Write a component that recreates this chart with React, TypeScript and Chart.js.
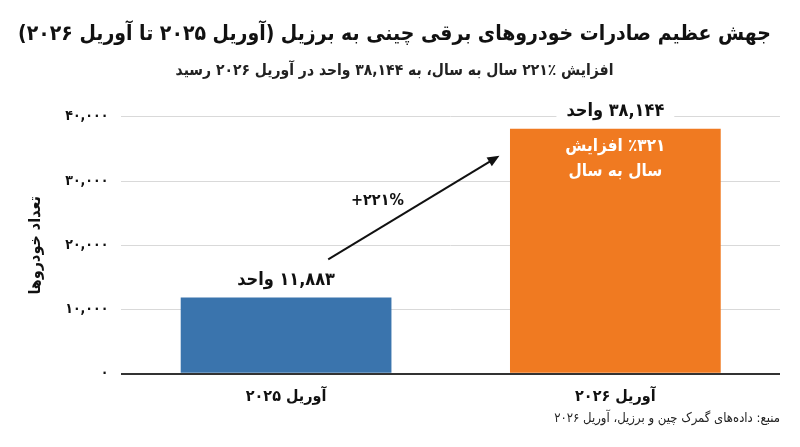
import React, { useEffect, useRef } from 'react';
import { Chart, registerables } from 'chart.js';

Chart.register(...registerables);

const FONT = "'DejaVu Sans Condensed', 'DejaVu Sans', sans-serif";

const chartTitle = 'جهش عظیم صادرات خودروهای برقی چینی به برزیل (آوریل ۲۰۲۵ تا آوریل ۲۰۲۶)';
const chartSubtitle = 'افزایش ٪۲۲۱ سال به سال، به ۳۸,۱۴۴ واحد در آوریل ۲۰۲۶ رسید';
const yAxisTitle = 'تعداد خودروها';
const sourceNote = 'منبع: داده‌های گمرک چین و برزیل، آوریل ۲۰۲۶';

const categories = ['آوریل ۲۰۲۵', 'آوریل ۲۰۲۶'];
const exportUnits = [11883, 38144];
const barColors = ['#3a74ad', '#f07a21'];
const barLabels = ['۱۱,۸۸۳ واحد', '۳۸,۱۴۴ واحد'];
const yTickValues = [0, 10000, 20000, 30000, 40000];
const growthLabel = '+۲۲۱%';
const growthNote = ['٪۳۲۱ افزایش', 'سال به سال'];

const PERSIAN_DIGITS = '۰۱۲۳۴۵۶۷۸۹';
const toPersian = (n: number) =>
  n.toLocaleString('en-US').replace(/[0-9]/g, d => PERSIAN_DIGITS[Number(d)]);

// bar value labels, the growth arrow and the source line
const annotationsPlugin = {
  id: 'annotations',
  afterDatasetsDraw(chart: any) {
    const { ctx, chartArea } = chart;
    const meta = chart.getDatasetMeta(0);
    const bars = meta.data;
    ctx.save();
    ctx.direction = 'rtl';

    // value labels above bars, on a white box that cuts the grid line
    ctx.font = `bold 18px ${FONT}`;
    ctx.textAlign = 'center';
    ctx.textBaseline = 'middle';
    bars.forEach((bar: any, i: number) => {
      const ly = bar.y - 17;
      const w = ctx.measureText(barLabels[i]).width;
      ctx.fillStyle = '#fff';
      ctx.fillRect(bar.x - w / 2 - 10, ly - 11, w + 20, 22);
      ctx.fillStyle = '#111';
      ctx.fillText(barLabels[i], bar.x, ly);
    });

    // note inside the last bar
    const last = bars[bars.length - 1];
    ctx.font = `bold 17px ${FONT}`;
    ctx.fillStyle = '#fff';
    growthNote.forEach((line, k) => {
      ctx.fillText(line, last.x, last.y + 18 + k * 25);
    });

    // arrow from first bar towards second
    const first = bars[0];
    const x1 = first.x + first.width * 0.2;
    const y1 = first.y - 38;
    const x2 = last.x - last.width * 0.55;
    const y2 = last.y + 27;
    const ang = Math.atan2(y2 - y1, x2 - x1);
    const head = 13;
    ctx.strokeStyle = '#111';
    ctx.fillStyle = '#111';
    ctx.lineWidth = 2;
    ctx.beginPath();
    ctx.moveTo(x1, y1);
    ctx.lineTo(x2 - Math.cos(ang) * head * 0.8, y2 - Math.sin(ang) * head * 0.8);
    ctx.stroke();
    ctx.beginPath();
    ctx.moveTo(x2, y2);
    ctx.lineTo(x2 - head * Math.cos(ang - 0.4), y2 - head * Math.sin(ang - 0.4));
    ctx.lineTo(x2 - head * Math.cos(ang + 0.4), y2 - head * Math.sin(ang + 0.4));
    ctx.closePath();
    ctx.fill();

    ctx.direction = 'ltr';
    ctx.font = `bold 16px ${FONT}`;
    ctx.textAlign = 'right';
    ctx.fillText(growthLabel, (x1 + x2) / 2 - 10, (y1 + y2) / 2 - 7);

    // source line
    ctx.direction = 'rtl';
    ctx.font = `13px ${FONT}`;
    ctx.fillStyle = '#222';
    ctx.textAlign = 'right';
    ctx.fillText(sourceNote, chartArea.right, chartArea.bottom + 45);
    ctx.restore();
  },
};

export default function App() {
  const canvasRef = useRef<HTMLCanvasElement>(null);

  useEffect(() => {
    if (!canvasRef.current) return;
    const chart = new Chart(canvasRef.current, {
      type: 'bar',
      data: {
        labels: categories,
        datasets: [
          {
            data: exportUnits,
            backgroundColor: barColors,
            categoryPercentage: 0.8,
            barPercentage: 0.8,
          },
        ],
      },
      options: {
        animation: false,
        responsive: true,
        maintainAspectRatio: false,
        layout: { padding: { left: 9, right: 20, bottom: 36 } },
        plugins: {
          legend: { display: false },
          tooltip: { enabled: false },
          title: {
            display: true,
            text: chartTitle,
            color: '#111',
            font: { family: FONT, size: 21, weight: 'bold' },
            padding: { top: 22, bottom: 14 },
          },
          subtitle: {
            display: true,
            text: chartSubtitle,
            color: '#222',
            font: { family: FONT, size: 15.5, weight: 'bold' },
            padding: { bottom: 37 },
          },
        },
        scales: {
          x: {
            grid: { display: false },
            border: { display: false },
            ticks: {
              color: '#111',
              padding: 5,
              font: { family: FONT, size: 16, weight: 'bold' },
            },
          },
          y: {
            min: 0,
            max: 40000,
            afterBuildTicks: (axis: any) => {
              axis.ticks = yTickValues.map(v => ({ value: v }));
            },
            border: { display: false },
            grid: {
              drawTicks: false,
              color: (c: any) => (c.tick && c.tick.value === 0 ? '#333' : '#d9d9d9'),
              lineWidth: (c: any) => (c.tick && c.tick.value === 0 ? 2 : 1),
            },
            ticks: {
              color: '#111',
              padding: 13,
              font: { family: FONT, size: 14, weight: 'bold' },
              callback: (v: any) => toPersian(Number(v)),
            },
            title: {
              display: true,
              text: yAxisTitle,
              color: '#111',
              font: { family: FONT, size: 16, weight: 'bold' },
              padding: { top: 17, bottom: 7 },
            },
          },
        },
      },
      plugins: [annotationsPlugin],
    });
    return () => chart.destroy();
  }, []);

  return (
    <div style={{ position: 'absolute', left: 0, top: 0, width: 800, height: 447, background: '#fff' }}>
      <canvas ref={canvasRef} dir="rtl" />
    </div>
  );
}
